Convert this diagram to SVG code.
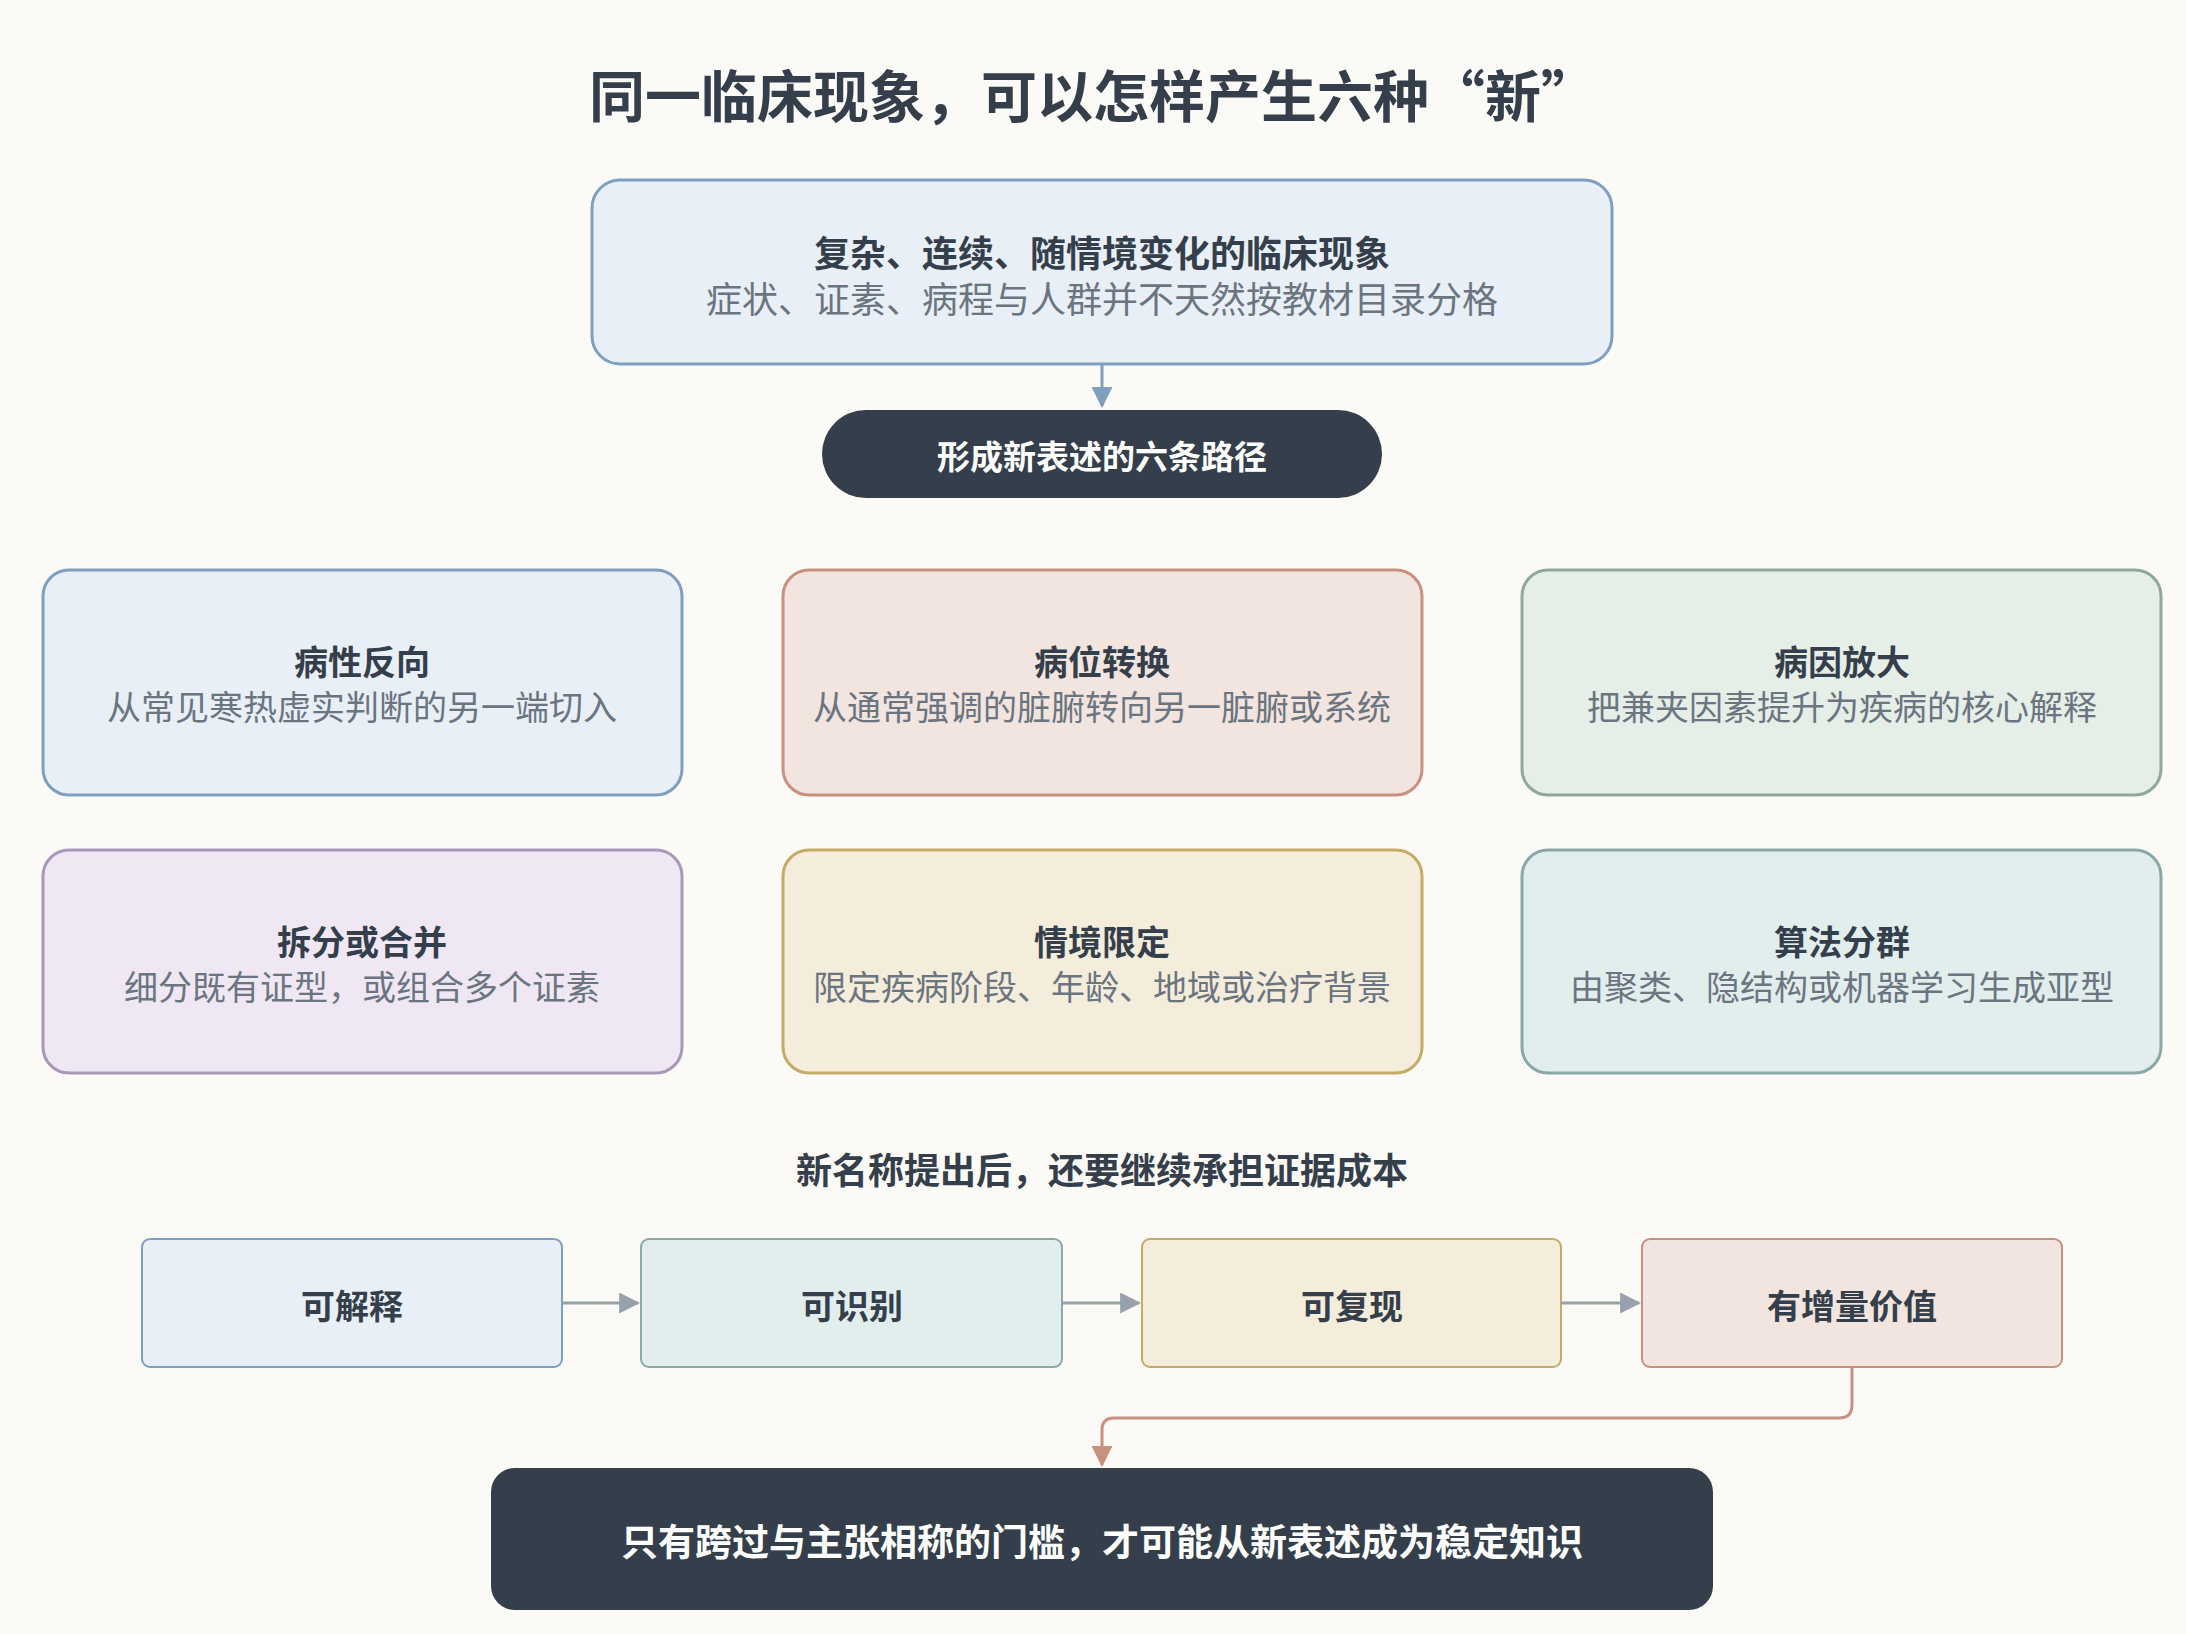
<svg xmlns="http://www.w3.org/2000/svg" width="2186" height="1634" viewBox="0 0 2186 1634">
<defs>
<style>
text{font-family:"Noto Sans CJK SC","Noto Sans",sans-serif;text-anchor:middle;dominant-baseline:central}
.t{font-size:34px;font-weight:700;fill:#343f4b}
.s{font-size:34px;fill:#6b7580}
.w{font-weight:700;fill:#ffffff}
.b{stroke-width:3}
</style>
<marker id="ag" viewBox="0 0 10 10" refX="9" refY="5" markerWidth="7" markerHeight="7" orient="auto"><path d="M0,0L10,5L0,10z" fill="#97a1ab"/></marker>
<marker id="ab" viewBox="0 0 10 10" refX="9" refY="5" markerWidth="7" markerHeight="7" orient="auto"><path d="M0,0L10,5L0,10z" fill="#7f9fbf"/></marker>
<marker id="ar" viewBox="0 0 10 10" refX="9" refY="5" markerWidth="7" markerHeight="7" orient="auto"><path d="M0,0L10,5L0,10z" fill="#c8907e"/></marker>
</defs>
<rect width="2186" height="1634" fill="#fcfaf6"/>
<text x="1093" y="92" style="font-size:56px;font-weight:700;fill:#343f4b">同一临床现象，可以怎样产生六种“新”</text>
<g id="top"><rect x="592" y="180" width="1020" height="184" rx="28" fill="#e8eff7" stroke="#7f9fbf" class="b"/>
<text class="t" x="1102" y="251" style="font-size:36px">复杂、连续、随情境变化的临床现象</text><text class="s" x="1102" y="297" style="font-size:36px">症状、证素、病程与人群并不天然按教材目录分格</text></g>
<g id="pill"><rect x="822" y="410" width="560" height="88" rx="44" fill="#343f4b"/><text class="t w" x="1102" y="455" style="font-size:33px">形成新表述的六条路径</text></g>
<g id="n1"><rect x="43" y="570" width="639" height="225" rx="26" fill="#e8eff7" stroke="#7f9fbf" class="b"/><text class="t" x="362" y="660">病性反向</text><text class="s" x="362" y="705">从常见寒热虚实判断的另一端切入</text></g>
<g id="n2"><rect x="783" y="570" width="639" height="225" rx="26" fill="#f2e4df" stroke="#c8907e" class="b"/><text class="t" x="1102" y="660">病位转换</text><text class="s" x="1102" y="705">从通常强调的脏腑转向另一脏腑或系统</text></g>
<g id="n3"><rect x="1522" y="570" width="639" height="225" rx="26" fill="#e6eee8" stroke="#8fa898" class="b"/><text class="t" x="1842" y="660">病因放大</text><text class="s" x="1842" y="705">把兼夹因素提升为疾病的核心解释</text></g>
<g id="n4"><rect x="43" y="850" width="639" height="223" rx="26" fill="#efe8f4" stroke="#a898b8" class="b"/><text class="t" x="362" y="940">拆分或合并</text><text class="s" x="362" y="985">细分既有证型，或组合多个证素</text></g>
<g id="n5"><rect x="783" y="850" width="639" height="223" rx="26" fill="#f5eddb" stroke="#c4ab66" class="b"/><text class="t" x="1102" y="940">情境限定</text><text class="s" x="1102" y="985">限定疾病阶段、年龄、地域或治疗背景</text></g>
<g id="n6"><rect x="1522" y="850" width="639" height="223" rx="26" fill="#e2eeee" stroke="#8aa8a8" class="b"/><text class="t" x="1842" y="940">算法分群</text><text class="s" x="1842" y="985">由聚类、隐结构或机器学习生成亚型</text></g>
<text class="t" x="1102" y="1168" style="font-size:36px">新名称提出后，还要继续承担证据成本</text>
<g id="e1"><rect x="142" y="1239" width="420" height="128" rx="8" fill="#e8eff7" stroke="#7f9fbf" stroke-width="2"/><text class="t" x="352" y="1304">可解释</text></g>
<g id="e2"><rect x="641" y="1239" width="421" height="128" rx="8" fill="#e2eeee" stroke="#8aa8a8" stroke-width="2"/><text class="t" x="852" y="1304">可识别</text></g>
<g id="e3"><rect x="1142" y="1239" width="419" height="128" rx="8" fill="#f5eddb" stroke="#c4ab66" stroke-width="2"/><text class="t" x="1352" y="1304">可复现</text></g>
<g id="e4"><rect x="1642" y="1239" width="420" height="128" rx="8" fill="#f2e4df" stroke="#c8907e" stroke-width="2"/><text class="t" x="1852" y="1304">有增量价值</text></g>
<g id="final"><rect x="491" y="1468" width="1222" height="142" rx="24" fill="#343f4b"/><text class="t w" x="1102" y="1540" style="font-size:37px">只有跨过与主张相称的门槛，才可能从新表述成为稳定知识</text></g>
<g id="connectors" fill="none" stroke-width="3">
<path d="M1102,364V406" stroke="#7f9fbf" marker-end="url(#ab)"/>
<path d="M562,1303H638" stroke="#97a1ab" marker-end="url(#ag)"/>
<path d="M1062,1303H1139" stroke="#97a1ab" marker-end="url(#ag)"/>
<path d="M1561,1303H1639" stroke="#97a1ab" marker-end="url(#ag)"/>
<path d="M1852,1367V1405Q1852,1418 1839,1418H1114Q1102,1418 1102,1430V1465" stroke="#c8907e" marker-end="url(#ar)"/>
</g>
</svg>
